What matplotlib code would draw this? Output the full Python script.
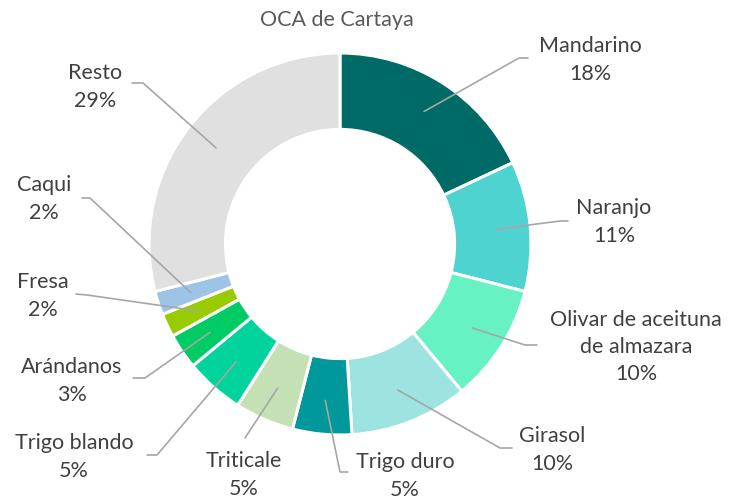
import matplotlib
matplotlib.use("Agg")
import matplotlib.pyplot as plt
import numpy as np

categories = ["Mandarino", "Naranjo", "Olivar de aceituna\nde almazara", "Girasol",
              "Trigo duro", "Triticale", "Trigo blando", "Arándanos", "Fresa", "Caqui", "Resto"]
values = [18, 11, 10, 10, 5, 5, 5, 3, 2, 2, 29]
colors = ["#006B66", "#4FD3D0", "#66F2C2", "#9DE3E0", "#00989A", "#C5E0B4",
          "#00D49C", "#00CC66", "#99CC00", "#9DC3E6", "#E0E0E0"]
title = "OCA de Cartaya"

# label text centres (pixel coords, y from top), leader elbows and ends
label_pos = [(590, 60), (614, 222), (636, 347), (552, 450), (405, 476), (244, 475),
             (74, 457), (72, 381), (43, 296), (44, 199), (95, 87)]
line_elbow = [(519, 58), (560, 221), (525, 345), (500, 448), (340, 472), (245, 438),
              (157, 455), (145, 378), (87, 295), (90, 198), (143, 83)]
line_end = [(528, 58), (568, 221), (537, 345), (512, 448), (348, 472), (245, 438),
            (147, 455), (133, 378), (76, 294), (82, 198), (132, 83)]

W, H = 731, 501
fig = plt.figure(figsize=(W / 100, H / 100), dpi=100)
ax = fig.add_axes([0, 0, 1, 1])

cx, cy, R = 340, H - 244, 191
wedges, _ = ax.pie(values, colors=colors, startangle=90, counterclock=False,
                   center=(cx, cy), radius=R, frame=True,
                   wedgeprops=dict(width=R * 0.40, edgecolor="white", linewidth=2.2))
ax.set_xlim(0, W)
ax.set_ylim(0, H)
ax.set_aspect("equal")
ax.axis("off")

font = "Lato"
tcol = "#404040"
for w, lab, v, (lx, ly), (bx, by), (ex, ey) in zip(wedges, categories, values,
                                                   label_pos, line_elbow, line_end):
    ang = np.deg2rad((w.theta1 + w.theta2) / 2)
    r0 = 157
    sx, sy = cx + r0 * np.cos(ang), cy + r0 * np.sin(ang)
    ax.plot([sx, bx, ex], [sy, H - by, H - ey], color="#A6A6A6", lw=1.2, zorder=5,
            solid_capstyle="round")
    ax.text(lx, H - ly, f"{lab}\n{v}%", ha="center", va="center", fontsize=15.5,
            color=tcol, family=font, linespacing=1.45, multialignment="center")

ax.text(337, H - 20, title, ha="center", va="center", fontsize=15.5,
        color="#595959", family=font)

fig.savefig("out.png", dpi=100)
